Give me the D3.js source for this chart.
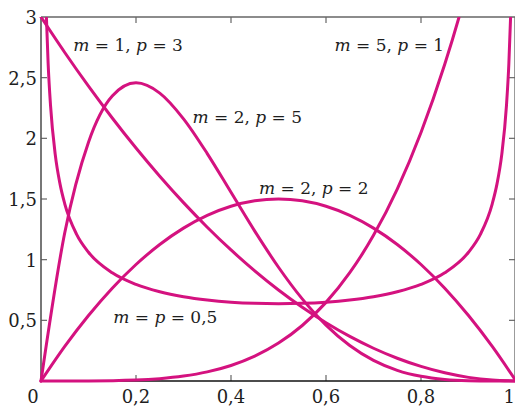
<!DOCTYPE html>
<html>
<head>
<meta charset="utf-8">
<script src="https://cdn.jsdelivr.net/npm/d3@7"></script>
<style>
  html, body { margin: 0; padding: 0; background: #fff; }
  svg { display: block; }
  text { font-family: "DejaVu Serif", serif; fill: #1e1e1e; }
</style>
</head>
<body>
<svg id="chart" width="515" height="406"></svg>
<script>
// Beta densities for several (m, p) parameter pairs
const xTicks = [0, 0.2, 0.4, 0.6, 0.8, 1];
const xTickLabels = ["0", "0,2", "0,4", "0,6", "0,8", "1"];
const yTicks = [0.5, 1, 1.5, 2, 2.5, 3];
const yTickLabels = ["0,5", "1", "1,5", "2", "2,5", "3"];

const xStd = [0, 0.05, 0.1, 0.15, 0.2, 0.25, 0.3, 0.35, 0.4, 0.45, 0.5,
              0.55, 0.6, 0.65, 0.7, 0.75, 0.8, 0.85, 0.9, 0.95, 1];

// m = 1, p = 3
const yM1P3 = [3, 2.7075, 2.43, 2.1675, 1.92, 1.6875, 1.47, 1.2675, 1.08, 0.9075, 0.75,
               0.6075, 0.48, 0.3675, 0.27, 0.1875, 0.12, 0.0675, 0.03, 0.0075, 0];
// m = 2, p = 5
const yM2P5 = [0, 1.2218, 1.9683, 2.349, 2.4576, 2.373, 2.1609, 1.8743, 1.5552, 1.2353, 0.9375,
               0.6766, 0.4608, 0.2926, 0.1701, 0.0879, 0.0384, 0.0129, 0.0027, 0.0002, 0];
// m = 2, p = 2
const yM2P2 = [0, 0.285, 0.54, 0.765, 0.96, 1.125, 1.26, 1.365, 1.44, 1.485, 1.5,
               1.485, 1.44, 1.365, 1.26, 1.125, 0.96, 0.765, 0.54, 0.285, 0];
// m = 5, p = 1
const xM5P1 = [0, 0.1, 0.2, 0.25, 0.3, 0.35, 0.4, 0.45, 0.5, 0.55, 0.6, 0.65, 0.7, 0.75, 0.8, 0.85, 0.88, 0.9];
const yM5P1 = [0, 0.0005, 0.008, 0.0195, 0.0405, 0.075, 0.128, 0.205, 0.3125, 0.4575, 0.648, 0.8925, 1.2005, 1.582, 2.048, 2.61, 2.998, 3.2805];
// m = p = 0.5
const xM05 = [0.0114, 0.015, 0.02, 0.03, 0.04, 0.05, 0.075, 0.1, 0.15, 0.2, 0.25, 0.3, 0.35, 0.4, 0.45, 0.5,
              0.55, 0.6, 0.65, 0.7, 0.75, 0.8, 0.85, 0.9, 0.925, 0.95, 0.96, 0.97, 0.98, 0.985, 0.9886];
const yM05 = [2.998, 2.619, 2.2736, 1.866, 1.6244, 1.4605, 1.2085, 1.061, 0.8914, 0.7958, 0.7351, 0.6946, 0.6674, 0.6497, 0.6398, 0.6366,
              0.6398, 0.6497, 0.6674, 0.6946, 0.7351, 0.7958, 0.8914, 1.061, 1.2085, 1.4605, 1.6244, 1.866, 2.2736, 2.619, 2.998];

const seriesList = [
  { xs: xStd, ys: yM1P3 },
  { xs: xStd, ys: yM2P5 },
  { xs: xStd, ys: yM2P2 },
  { xs: xM5P1, ys: yM5P1 },
  { xs: xM05, ys: yM05 }
];

// Curve annotations: [text, italic] pieces and their anchor in data space
const labelParts = [
  [["m", true], [" = 1, ", false], ["p", true], [" = 3", false]],
  [["m", true], [" = 2, ", false], ["p", true], [" = 5", false]],
  [["m", true], [" = 2, ", false], ["p", true], [" = 2", false]],
  [["m", true], [" = 5, ", false], ["p", true], [" = 1", false]],
  [["m", true], [" = ", false], ["p", true], [" = 0,5", false]]
];
const labelX = [0.068, 0.319, 0.459, 0.618, 0.152];
const labelY = [2.72, 2.13, 1.54, 2.72, 0.48];

const svg = d3.select("#chart");
const W = 515, H = 406;
const x = d3.scaleLinear().domain([0, 1]).range([41, 516]);
const y = d3.scaleLinear().domain([0, 3]).range([381, 17]);

const frame = "#666";

// top and right frame lines
svg.append("line").attr("x1", x(0)).attr("x2", x(1)).attr("y1", y(3)).attr("y2", y(3))
  .attr("stroke", frame).attr("stroke-width", 1.3);
svg.append("line").attr("x1", x(1) - 1).attr("x2", x(1) - 1).attr("y1", y(3)).attr("y2", y(0))
  .attr("stroke", frame).attr("stroke-width", 1.3);

// inward ticks on all four sides
const tickLen = 6;
const xt = xTicks.filter(v => v > 0 && v < 1);
const yt = yTicks.filter(v => v < 3);
svg.append("g").selectAll("line").data(xt).join("line")
  .attr("x1", d => x(d)).attr("x2", d => x(d)).attr("y1", y(0)).attr("y2", y(0) - tickLen)
  .attr("stroke", frame).attr("stroke-width", 1.2);
svg.append("g").selectAll("line").data(xt).join("line")
  .attr("x1", d => x(d)).attr("x2", d => x(d)).attr("y1", y(3)).attr("y2", y(3) + tickLen)
  .attr("stroke", frame).attr("stroke-width", 1.2);
svg.append("g").selectAll("line").data(yt).join("line")
  .attr("x1", x(0)).attr("x2", x(0) + tickLen).attr("y1", d => y(d)).attr("y2", d => y(d))
  .attr("stroke", frame).attr("stroke-width", 1.2);
svg.append("g").selectAll("line").data(yt).join("line")
  .attr("x1", x(1) - 1).attr("x2", x(1) - 1 - tickLen).attr("y1", d => y(d)).attr("y2", d => y(d))
  .attr("stroke", frame).attr("stroke-width", 1.2);

// left and bottom axis lines
svg.append("line").attr("x1", x(0)).attr("x2", x(0)).attr("y1", y(3)).attr("y2", y(0))
  .attr("stroke", "#555").attr("stroke-width", 1.6);
svg.append("line").attr("x1", x(0)).attr("x2", x(1)).attr("y1", y(0)).attr("y2", y(0))
  .attr("stroke", "#111").attr("stroke-width", 1.6);

// tick labels (the last one is kept inside the page edge)
svg.append("g").selectAll("text").data(xTicks).join("text")
  .attr("x", (d, i) => i === 0 ? x(d) - 8 : (i === xTicks.length - 1 ? W : x(d)))
  .attr("y", 403)
  .attr("text-anchor", (d, i) => i === xTicks.length - 1 ? "end" : "middle")
  .attr("font-size", 18)
  .text((d, i) => xTickLabels[i]);
svg.append("g").selectAll("text").data(yTicks).join("text")
  .attr("x", x(0) - 4)
  .attr("y", d => y(d) + 7)
  .attr("text-anchor", "end")
  .attr("font-size", 18)
  .text(d => yTickLabels[yTicks.indexOf(d)]);

// curves, clipped to the plot box
svg.append("clipPath").attr("id", "plotClip")
  .append("rect").attr("x", 30).attr("y", y(3)).attr("width", W - 30).attr("height", H - y(3));

const line = d3.line()
  .x(d => x(d[0]))
  .y(d => y(d[1]))
  .curve(d3.curveMonotoneX);

svg.append("g").attr("clip-path", "url(#plotClip)")
  .selectAll("path").data(seriesList).join("path")
  .attr("d", s => line(s.xs.map((v, i) => [v, s.ys[i]])))
  .attr("fill", "none")
  .attr("stroke", "#d4127f")
  .attr("stroke-width", 3)
  .attr("stroke-linejoin", "round")
  .attr("stroke-linecap", "round");

// annotations
const lbl = svg.append("g").selectAll("text").data(labelParts).join("text")
  .attr("x", (d, i) => x(labelX[i]))
  .attr("y", (d, i) => y(labelY[i]))
  .attr("font-size", 17);
lbl.selectAll("tspan").data(d => d).join("tspan")
  .attr("font-style", d => d[1] ? "italic" : "normal")
  .text(d => d[0]);
</script>
</body>
</html>
